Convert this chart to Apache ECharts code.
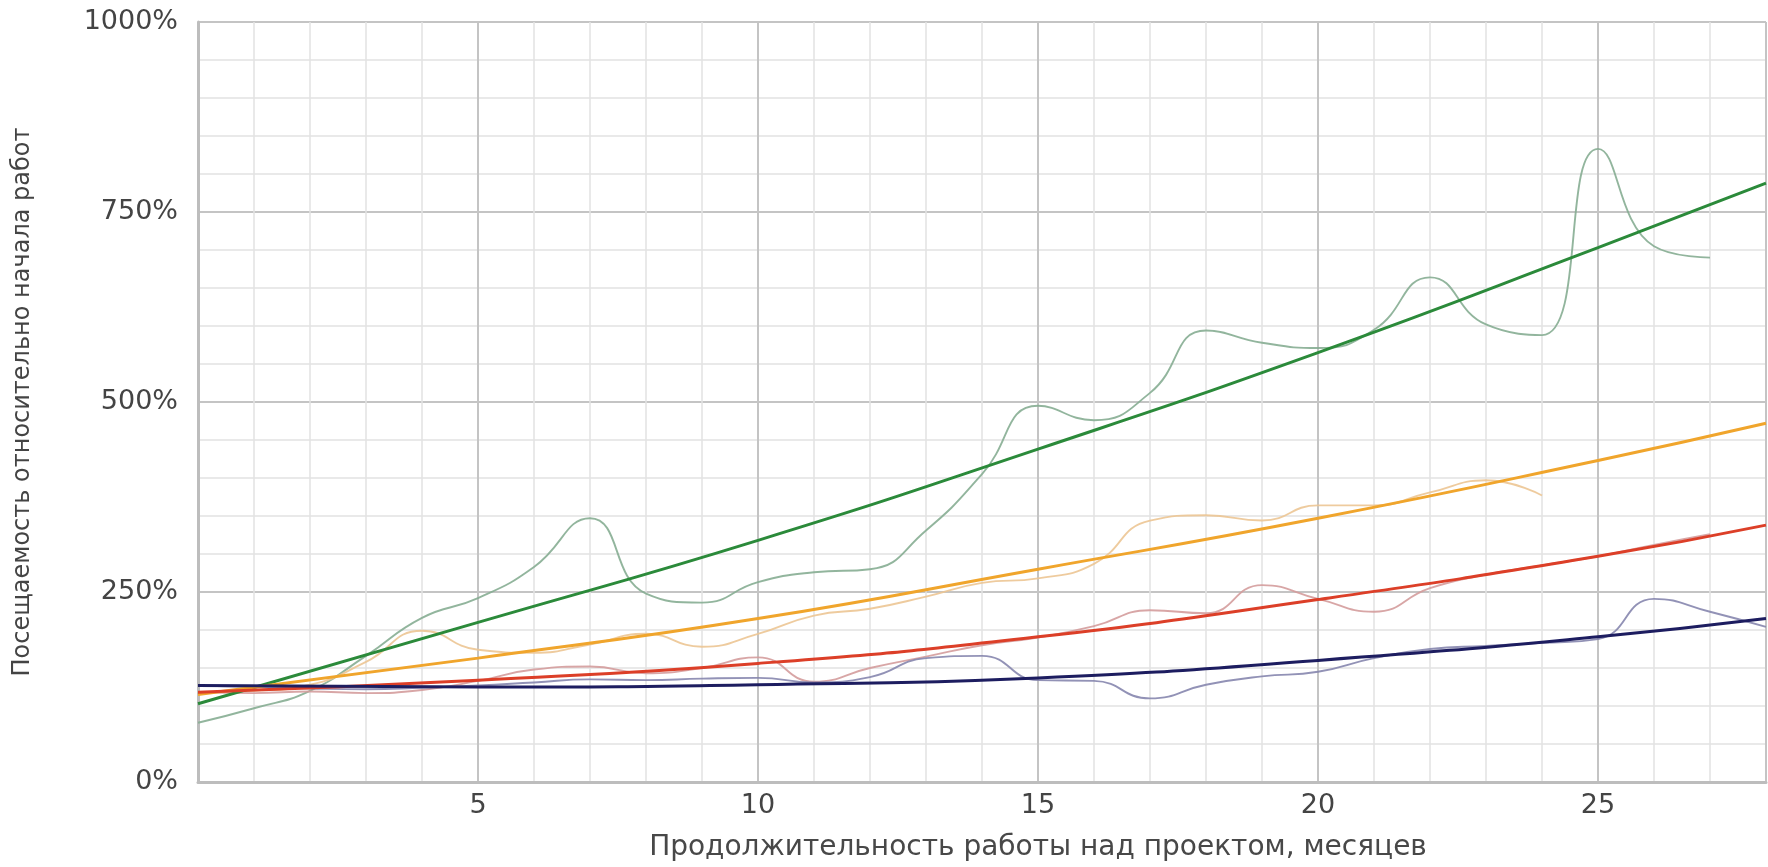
<!DOCTYPE html>
<html>
<head>
<meta charset="utf-8">
<script src="https://cdn.jsdelivr.net/npm/echarts@6/dist/echarts.min.js"></script>
<style>
html,body{margin:0;padding:0;background:#ffffff;}
#chart{width:1768px;height:867px;}
</style>
</head>
<body>
<div id="chart"></div>
<script>
// Months (x values of the monthly observations)
const months = [0,1,2,3,4,5,6,7,8,9,10,11,12,13,14,15,16,17,18,19,20,21,22,23,24,25,26,27,28];

// Observed attendance relative to project start, %
const greenObserved  = [78,97,120,166,216,242,283,347,248,236,263,276,280,331,405,495,476,512,594,578,571,595,664,602,588,833,705,690];
const orangeObserved = [118,120,128,158,199,174,170,181,195,178,195,219,228,244,262,268,287,344,351,344,364,364,381,397,377];
const redObserved    = [118,117,119,117,121,133,148,152,143,150,164,132,150,165,180,190,205,226,222,259,241,224,255,273,285,297,312,326];
const navyObserved   = [127,125,123,122,124,127,131,135,134,136,137,131,138,163,166,134,133,110,128,139,145,163,175,179,183,188,241,224,204];

// Trend lines, read at these months
const trendMonths = [0,5,10,15,20,25,28];
const greenTrend  = [103,210,318,438,565,703,788];
const orangeTrend = [115,163,215,280,347,423,472];
const redTrend    = [118,134,156,191,240,297,338];
const navyTrend   = [127,125,128,137,160,191,215];

// Axis tick values
const yTicks = [0,250,500,750,1000];
const xTicks = [5,10,15,20,25];

const xName = 'Продолжительность работы над проектом, месяцев';
const yName = 'Посещаемость относительно начала работ';

function pairs(xs, ys) { return ys.map((v, i) => [xs[i], v]); }

const FONT = 'DejaVu Sans';

function thin(name, data, color) {
  return {
    name: name, type: 'line', smooth: true, symbol: 'none', silent: true,
    data: pairs(months, data),
    lineStyle: { color: color, width: 1.9, opacity: 0.9 },
    z: 2
  };
}
function thick(name, data, color) {
  return {
    name: name, type: 'line', smooth: true, symbol: 'none', silent: true,
    data: pairs(trendMonths, data),
    lineStyle: { color: color, width: 3 },
    z: 3
  };
}

const chart = echarts.init(document.getElementById('chart'), null, { renderer: 'canvas' });
chart.setOption({
  animation: false,
  backgroundColor: '#ffffff',
  grid: { left: 198, right: 2, top: 22, bottom: 81, containLabel: false },
  xAxis: {
    type: 'value', min: 0, max: 28, interval: 5,
    name: xName, nameLocation: 'middle', nameGap: 52,
    nameTextStyle: { fontFamily: FONT, fontSize: 28, color: '#484848', padding: [0, 0, 0, 112] },
    axisLine: { show: true, lineStyle: { color: '#bdbdbd', width: 3 } },
    axisTick: { show: false },
    axisLabel: {
      fontFamily: FONT, fontSize: 27, color: '#444', margin: 10,
      showMinLabel: false, showMaxLabel: false,
      formatter: function (v) { return xTicks.indexOf(v) >= 0 ? String(v) : ''; }
    },
    splitLine: { show: true, lineStyle: { color: '#c4c4c4', width: 2 } },
    minorTick: { show: false, splitNumber: 5 },
    minorSplitLine: { show: true, lineStyle: { color: '#e2e2e2', width: 1.5 } }
  },
  yAxis: {
    type: 'value', min: 0, max: 1000, interval: 250,
    name: yName, nameLocation: 'middle', nameGap: 163, nameRotate: 90,
    nameTextStyle: { fontFamily: FONT, fontSize: 24, color: '#444' },
    axisLine: { show: true, lineStyle: { color: '#bdbdbd', width: 3 } },
    axisTick: { show: false },
    axisLabel: {
      fontFamily: FONT, fontSize: 27, color: '#444', margin: 20,
      formatter: function (v) { return yTicks.indexOf(v) >= 0 ? v + '%' : ''; }
    },
    splitLine: { show: true, lineStyle: { color: '#c4c4c4', width: 2 } },
    minorTick: { show: false, splitNumber: 5 },
    minorSplitLine: { show: true, lineStyle: { color: '#e2e2e2', width: 1.5 } }
  },
  series: [
    thin('Зелёная группа', greenObserved, '#86ad92'),
    thin('Оранжевая группа', orangeObserved, '#ecc593'),
    thin('Красная группа', redObserved, '#d49c9c'),
    thin('Синяя группа', navyObserved, '#8686ae'),
    thick('Тренд зелёной группы', greenTrend, '#2b8a3a'),
    thick('Тренд оранжевой группы', orangeTrend, '#f0a52c'),
    thick('Тренд красной группы', redTrend, '#dc3f28'),
    thick('Тренд синей группы', navyTrend, '#1d1d60')
  ]
});
</script>
</body>
</html>
